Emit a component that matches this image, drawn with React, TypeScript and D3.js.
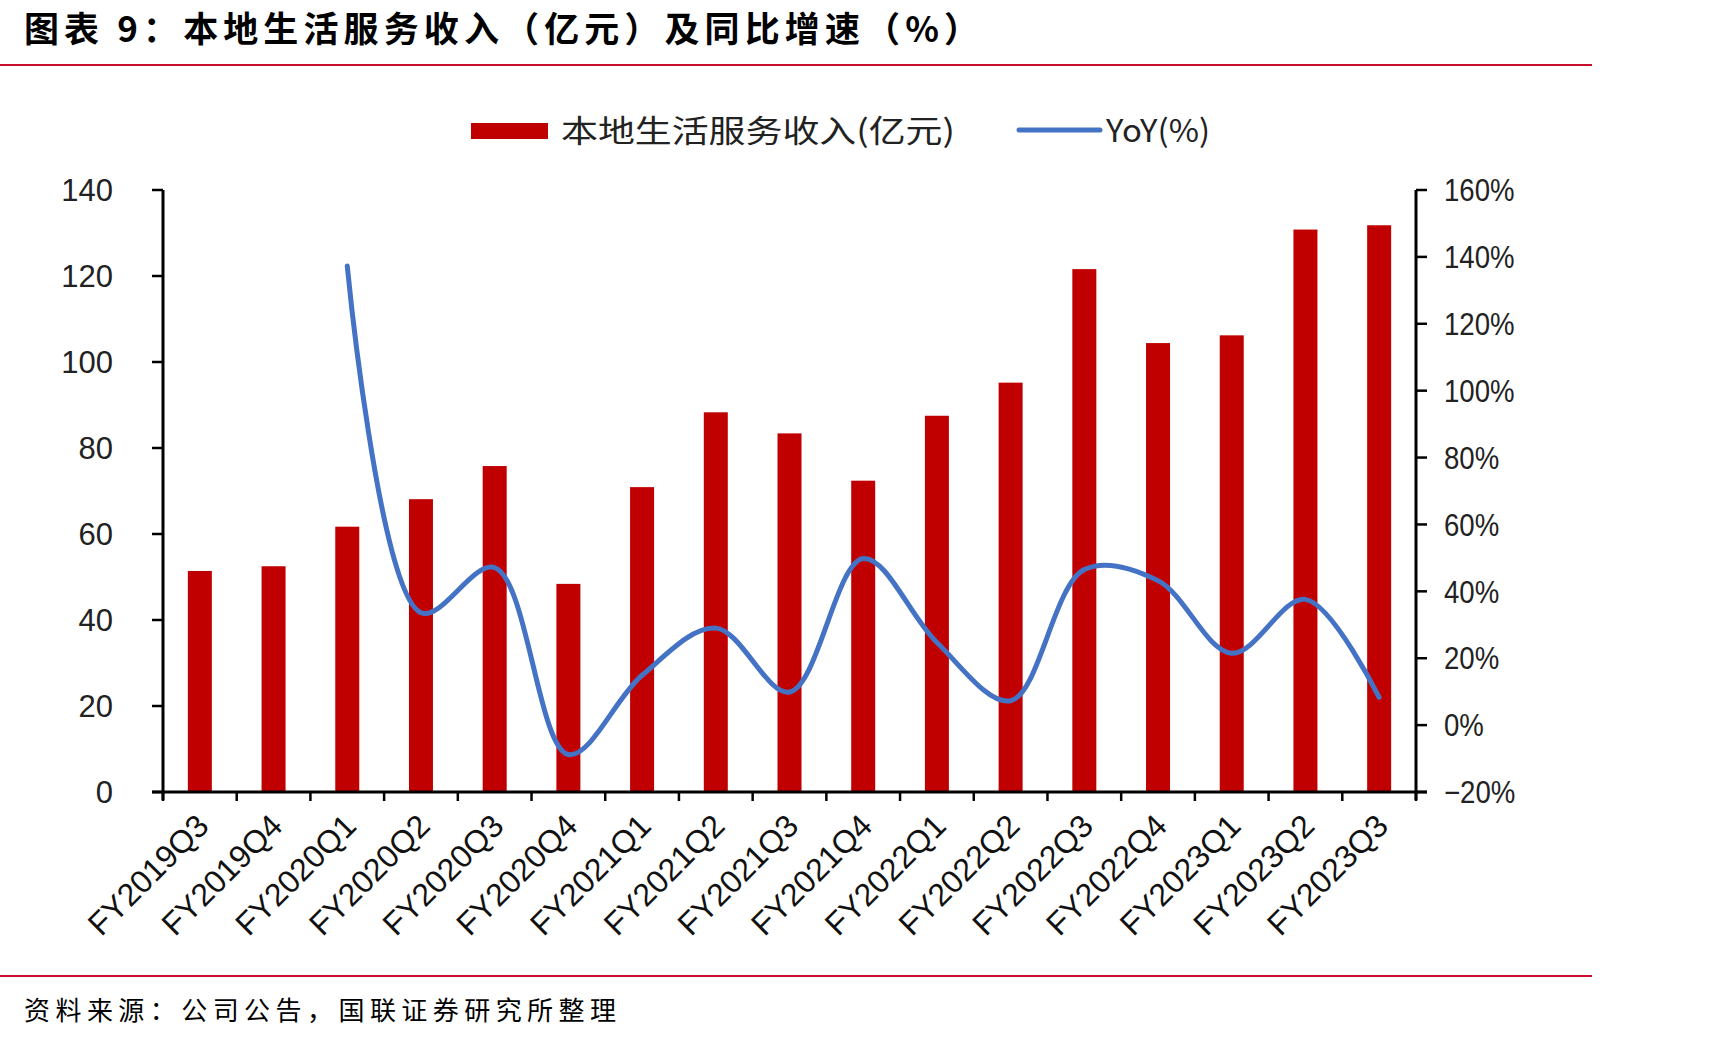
import React from "react";
import * as d3 from "d3";

// Quarterly local-services revenue (亿元) and YoY growth (%)
const quarters = [
  "FY2019Q3", "FY2019Q4", "FY2020Q1", "FY2020Q2", "FY2020Q3", "FY2020Q4",
  "FY2021Q1", "FY2021Q2", "FY2021Q3", "FY2021Q4", "FY2022Q1", "FY2022Q2",
  "FY2022Q3", "FY2022Q4", "FY2023Q1", "FY2023Q2", "FY2023Q3",
];
const revenue = [
  51.4, 52.5, 61.7, 68.1, 75.8, 48.4, 70.9, 88.3, 83.4, 72.4, 87.5, 95.2,
  121.6, 104.4, 106.2, 130.8, 131.8,
];
const yoy: (number | null)[] = [
  null, null, 137.3, 33.6, 47.1, -8.8, 14.9, 29.0, 9.9, 49.8, 24.7, 7.3,
  46.5, 43.2, 21.5, 37.6, 8.3,
];
const leftTicks = [0, 20, 40, 60, 80, 100, 120, 140];
const rightTicks = [-20, 0, 20, 40, 60, 80, 100, 120, 140, 160];

const BAR_COLOR = "#C00000";
const LINE_COLOR = "#4472C4";
const RULE_COLOR = "#C8102E";
const numFont = "'Liberation Sans', Arial, sans-serif";
const cjkFont = "'Noto Sans CJK SC', sans-serif";

const App = () => {
  const left = 163;
  const right = 1416;
  const top = 190;
  const bottom = 792;

  const x = d3.scaleBand<string>().domain(quarters).range([left, right]);
  const yL = d3.scaleLinear().domain([0, 140]).range([bottom, top]);
  const yR = d3.scaleLinear().domain([-20, 160]).range([bottom, top]);
  const barW = 24;
  const cx = (q: string) => (x(q) as number) + x.bandwidth() / 2;

  const line = d3
    .line<number | null>()
    .defined((d) => d != null)
    .x((_, i) => cx(quarters[i]))
    .y((d) => yR(d as number))
    .curve(d3.curveCatmullRom.alpha(0.5));

  const boundaries = quarters.map((q) => x(q) as number).concat([right]);

  return (
    <svg
      width={1725}
      height={1041}
      style={{ position: "absolute", left: 0, top: 0, background: "#fff" }}
    >
      {/* title and rules */}
      <text
        x={24}
        y={42}
        fontFamily={cjkFont}
        fontWeight={700}
        fontSize={35}
        textLength={955}
        lengthAdjust="spacing"
        fill="#000"
      >
        图表 9：本地生活服务收入（亿元）及同比增速（%）
      </text>
      <line x1={0} x2={1592} y1={65} y2={65} stroke={RULE_COLOR} strokeWidth={2} />
      <line x1={0} x2={1592} y1={976} y2={976} stroke={RULE_COLOR} strokeWidth={2} />
      <text
        x={24}
        y={1020}
        fontFamily={cjkFont}
        fontSize={26}
        textLength={592}
        lengthAdjust="spacing"
        fill="#000"
      >
        资料来源：公司公告，国联证券研究所整理
      </text>

      {/* legend */}
      <rect x={471} y={123} width={77} height={16} fill={BAR_COLOR} />
      <text
        x={561}
        y={142}
        fontFamily={cjkFont}
        fontSize={31}
        textLength={394}
        lengthAdjust="spacingAndGlyphs"
        fill="#222"
      >
        本地生活服务收入(亿元)
      </text>
      <line x1={1019} x2={1100} y1={130} y2={130} stroke={LINE_COLOR} strokeWidth={5} strokeLinecap="round" />
      <text x={1106} y={142} fontFamily={cjkFont} fontSize={31} textLength={104} lengthAdjust="spacingAndGlyphs" fill="#222">
        YoY(%)
      </text>

      {/* bars */}
      {quarters.map((q, i) => (
        <rect
          key={q}
          x={cx(q) - barW / 2}
          y={yL(revenue[i])}
          width={barW}
          height={bottom - yL(revenue[i])}
          fill={BAR_COLOR}
        />
      ))}

      {/* yoy line */}
      <path d={line(yoy) || ""} fill="none" stroke={LINE_COLOR} strokeWidth={5} strokeLinecap="round" />

      {/* left axis */}
      <line x1={left} x2={left} y1={top} y2={bottom + 8} stroke="#000" strokeWidth={3} />
      {leftTicks.map((t) => (
        <g key={t}>
          <line x1={left - 11} x2={left} y1={yL(t)} y2={yL(t)} stroke="#000" strokeWidth={2.5} />
          <text
            x={113}
            y={yL(t)}
            dy="0.36em"
            textAnchor="end"
            fontFamily={numFont}
            fontSize={31}
            fill="#222"
          >
            {t}
          </text>
        </g>
      ))}

      {/* right axis */}
      <line x1={right} x2={right} y1={top} y2={bottom + 8} stroke="#000" strokeWidth={3} />
      {rightTicks.map((t) => (
        <g key={t}>
          <line x1={right} x2={right + 11} y1={yR(t)} y2={yR(t)} stroke="#000" strokeWidth={2.5} />
          <text
            transform={`translate(1444,${yR(t)}) scale(0.89,1)`}
            dy="0.36em"
            fontFamily={numFont}
            fontSize={31}
            fill="#222"
          >
            {t < 0 ? `−${-t}%` : `${t}%`}
          </text>
        </g>
      ))}

      {/* x axis */}
      <line x1={left - 11} x2={right + 11} y1={bottom} y2={bottom} stroke="#000" strokeWidth={3} />
      {boundaries.map((b, i) => (
        <line key={i} x1={b} x2={b} y1={bottom} y2={bottom + 9} stroke="#000" strokeWidth={2.5} />
      ))}
      {quarters.map((q) => (
        <text
          key={q}
          transform={`translate(${cx(q) - 5},${bottom + 20}) rotate(-45)`}
          textAnchor="end"
          dy="0.7em"
          fontFamily={numFont}
          fontSize={32}
          fill="#111"
        >
          {q}
        </text>
      ))}
    </svg>
  );
};

export default App;
